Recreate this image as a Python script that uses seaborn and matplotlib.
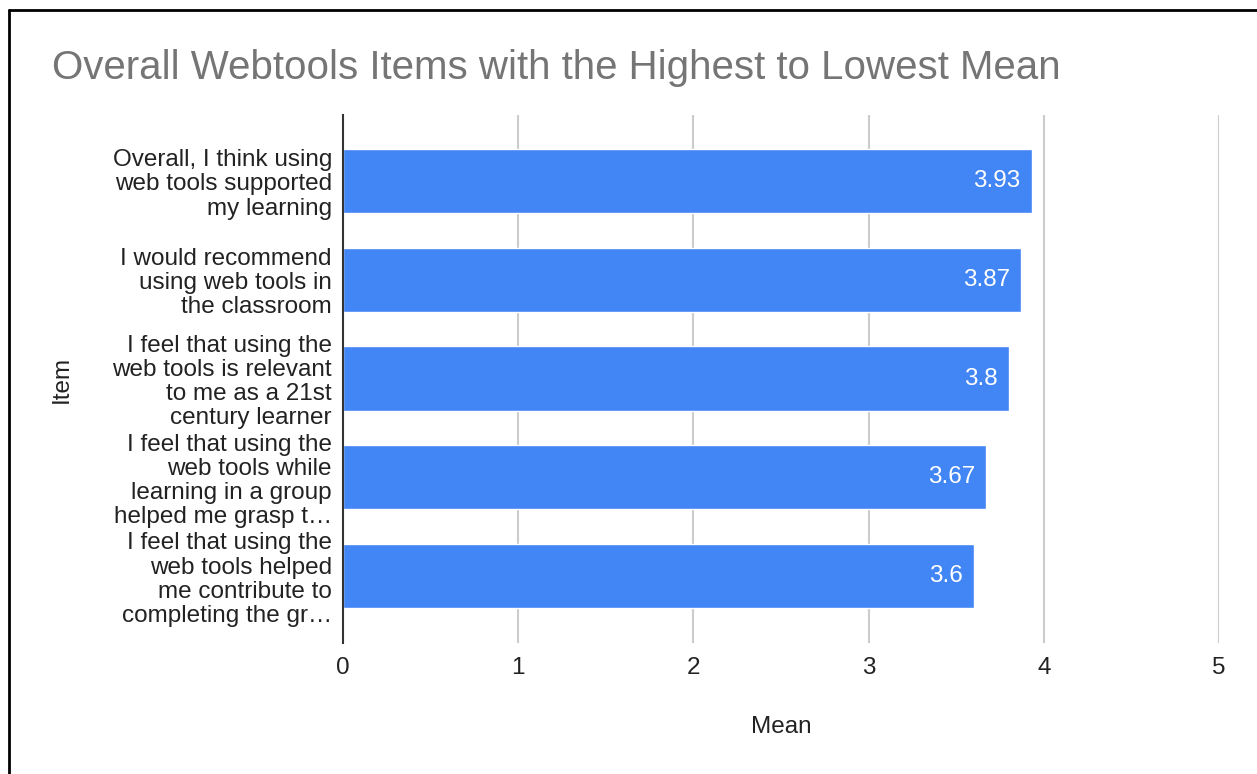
import matplotlib
matplotlib.use("Agg")
import matplotlib.pyplot as plt
import seaborn as sns
import pandas as pd
from matplotlib.lines import Line2D

items = [
    "Overall, I think using\nweb tools supported\nmy learning",
    "I would recommend\nusing web tools in\nthe classroom",
    "I feel that using the\nweb tools is relevant\nto me as a 21st\ncentury learner",
    "I feel that using the\nweb tools while\nlearning in a group\nhelped me grasp t…",
    "I feel that using the\nweb tools helped\nme contribute to\ncompleting the gr…",
]
means = [3.93, 3.87, 3.8, 3.67, 3.6]
value_labels = ["3.93", "3.87", "3.8", "3.67", "3.6"]
x_ticks = [0, 1, 2, 3, 4, 5]

sns.set_theme(style="white")
plt.rcParams['font.family'] = ['Liberation Sans', 'DejaVu Sans']

FS = 17.5
TXT = "#222222"

df = pd.DataFrame({"Item": items, "Mean": means})

fig = plt.figure(figsize=(12.57, 7.74), dpi=100)
ax = fig.add_axes([343/1257, 1-643/774, (1219-343)/1257, (643-115)/774])

sns.barplot(data=df, y="Item", x="Mean", orient="h", color="#4285F4",
            saturation=1, width=0.65, ax=ax, zorder=3)

ax.set_xlim(0, 5)
ax.set_ylim(4.678, -0.668)
ax.set_xticks(x_ticks)
ax.set_xticklabels([str(t) for t in x_ticks], fontsize=FS, color=TXT)
ax.tick_params(axis='x', length=0, pad=10)
ax.tick_params(axis='y', length=0, pad=8, labelsize=FS, labelcolor=TXT)
for lab in ax.get_yticklabels():
    lab.set_horizontalalignment('right')
    lab.set_multialignment('right')
    lab.set_linespacing(1.12)

for t in x_ticks[1:]:
    ax.axvline(t, color="#cccccc", lw=1.5, zorder=1)

for s in ["top", "right", "bottom"]:
    ax.spines[s].set_visible(False)
ax.spines["left"].set_color("#333333")
ax.spines["left"].set_linewidth(1.5)
ax.spines["left"].set_zorder(4)

for i, (v, lbl) in enumerate(zip(means, value_labels)):
    ax.annotate(lbl, xy=(v, i), xytext=(-8, 0), textcoords="offset points",
                ha="right", va="center", color="white", fontsize=FS, zorder=5)

ax.set_xlabel("Mean", fontsize=FS, color=TXT)
ax.xaxis.set_label_coords((781-343)/876, -(727-643)/528)
ax.set_ylabel("Item", fontsize=FS, color=TXT)
ax.yaxis.set_label_coords(-(343-62)/876, 0.5)
ax.yaxis.label.set_verticalalignment('center')
ax.xaxis.label.set_verticalalignment('center')

fig.text(52/1257, 1-68/774, "Overall Webtools Items with the Highest to Lowest Mean",
         fontsize=29, color="#757575", ha="left", va="center")

# frame border on top and left
fig.add_artist(Line2D([9/1257, 9/1257], [0, 1-10/774], transform=fig.transFigure, color="black", lw=2))
fig.add_artist(Line2D([9/1257, 1], [1-10/774, 1-10/774], transform=fig.transFigure, color="black", lw=2))

fig.savefig("out.png", dpi=100)
